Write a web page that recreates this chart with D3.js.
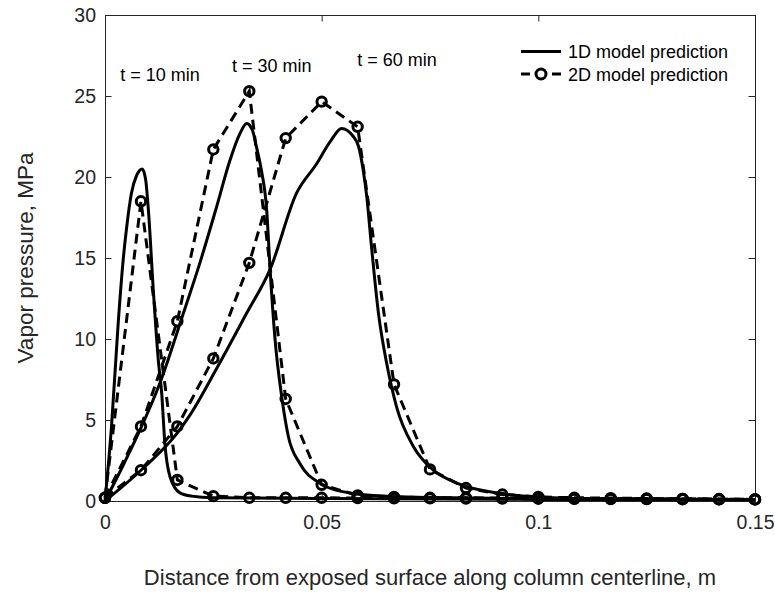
<!DOCTYPE html>
<html>
<head>
<meta charset="utf-8">
<script src="https://cdn.jsdelivr.net/npm/d3@7"></script>
<style>
    body { margin: 0; background: #fff; }
    svg { display: block; font-family: "Liberation Sans", Arial, sans-serif; }
</style>
</head>
<body>
<svg id="chart" width="775" height="600"></svg>
<script>
// 2D model: sampled points (markers)
const x2D = [0, 0.0083, 0.0167, 0.025, 0.0333, 0.0417, 0.05, 0.0583, 0.0667, 0.075,
    0.0833, 0.0917, 0.1, 0.1083, 0.1167, 0.125, 0.1333, 0.1417, 0.15];
const t10_2D = [0.2, 18.5, 1.3, 0.3, 0.2, 0.2, 0.2, 0.18, 0.17, 0.16, 0.15, 0.15, 0.14, 0.13, 0.12, 0.12, 0.11, 0.1, 0.1];
const t30_2D = [0.2, 4.6, 11.1, 21.7, 25.3, 6.3, 1.0, 0.35, 0.25, 0.2, 0.2, 0.18, 0.16, 0.15, 0.14, 0.13, 0.12, 0.11, 0.1];
const t60_2D = [0.2, 1.9, 4.6, 8.8, 14.7, 22.4, 24.65, 23.1, 7.2, 1.95, 0.8, 0.4, 0.25, 0.2, 0.18, 0.15, 0.13, 0.12, 0.1];

// 1D model: [distance, pressure]
const t10_1D = [[0, 0], [0.0015, 4.6], [0.003, 10.8], [0.0042, 14.9], [0.005, 16.9], [0.0061, 19.0],
    [0.0073, 20.1], [0.0086, 20.5], [0.0094, 19.8], [0.01, 18.0], [0.0112, 12.8], [0.0123, 8.7],
    [0.0131, 6.6], [0.0138, 3.6], [0.015, 1.5], [0.0173, 0.5], [0.02, 0.3], [0.025, 0.2],
    [0.05, 0.15], [0.1, 0.1], [0.15, 0.08]];
const t30_1D = [[0, 0], [0.004, 2.1], [0.0081, 4.4], [0.0127, 7.3], [0.0181, 11.6], [0.0219, 14.7],
    [0.0258, 18.2], [0.0288, 21.0], [0.031, 22.6], [0.0327, 23.3], [0.034, 22.9], [0.035, 21.8],
    [0.0361, 20.4], [0.0373, 18.0], [0.0381, 14.3], [0.0392, 10.1], [0.0408, 6.4], [0.0423, 4.0],
    [0.045, 2.3], [0.0496, 1.1], [0.0565, 0.5], [0.065, 0.3], [0.08, 0.2], [0.1, 0.15], [0.15, 0.1]];
const t60_1D = [[0, 0], [0.0083, 1.9], [0.0167, 4.2], [0.0196, 5.3], [0.0258, 8.2], [0.0327, 11.6],
    [0.0381, 14.3], [0.0442, 19.0], [0.0488, 20.8], [0.052, 22.2], [0.0546, 23.0], [0.0573, 22.5],
    [0.0585, 21.9], [0.0596, 20.4], [0.0604, 18.8], [0.0615, 15.7], [0.0631, 11.6], [0.065, 8.5],
    [0.0673, 5.8], [0.0712, 3.35], [0.0758, 1.9], [0.0812, 1.1], [0.0912, 0.47], [0.1, 0.25],
    [0.11, 0.15], [0.15, 0.08]];

const xTicks = [0, 0.05, 0.1, 0.15];
const xTickLabels = ['0', '0.05', '0.1', '0.15'];
const yTicks = [0, 5, 10, 15, 20, 25, 30];

const labels = [
    { text: 't = 10 min', x: 0.0035, y: 25.9 },
    { text: 't = 30 min', x: 0.0293, y: 26.5 },
    { text: 't = 60 min', x: 0.0582, y: 26.85 }
];

const margin = { top: 15, right: 20, bottom: 99, left: 105 };
const width = 775 - margin.left - margin.right;
const height = 600 - margin.top - margin.bottom;
const axisColor = '#262626';

const svg = d3.select('#chart');
const g = svg.append('g').attr('transform', `translate(${margin.left},${margin.top})`);

const x = d3.scaleLinear().domain([0, 0.15]).range([0, width]);
const y = d3.scaleLinear().domain([0, 30]).range([height, 0]);

// 坐标轴
function styleAxis(sel, fontSize) {
    sel.select('.domain').attr('stroke', axisColor).attr('stroke-width', 1);
    sel.selectAll('.tick line').attr('stroke', axisColor).attr('stroke-width', 1);
    sel.selectAll('.tick text').attr('fill', axisColor).style('font-size', fontSize);
}

g.append('g')
    .attr('transform', `translate(0,${height})`)
    .call(d3.axisBottom(x).tickValues(xTicks).tickSize(-6.5).tickPadding(14)
        .tickFormat((d, i) => xTickLabels[i]))
    .call(s => styleAxis(s, '19.5px'));

g.append('g')
    .call(d3.axisTop(x).tickValues(xTicks).tickSize(-6.5).tickFormat(''))
    .call(s => styleAxis(s, '0px'));

g.append('g')
    .call(d3.axisLeft(y).tickValues(yTicks).tickSize(-6.5).tickPadding(9))
    .call(s => styleAxis(s, '19.5px'));

g.append('g')
    .attr('transform', `translate(${width},0)`)
    .call(d3.axisRight(y).tickValues(yTicks).tickSize(-6.5).tickFormat(''))
    .call(s => styleAxis(s, '0px'));

// 轴标题
svg.append('text')
    .attr('x', margin.left + width / 2)
    .attr('y', 585)
    .attr('text-anchor', 'middle')
    .attr('fill', axisColor)
    .style('font-size', '22px')
    .text('Distance from exposed surface along column centerline, m');

svg.append('text')
    .attr('transform', `translate(33,${margin.top + height / 2}) rotate(-90)`)
    .attr('text-anchor', 'middle')
    .attr('fill', axisColor)
    .style('font-size', '22.5px')
    .text('Vapor pressure, MPa');

// 曲线
const line1D = d3.line().x(d => x(d[0])).y(d => y(d[1])).curve(d3.curveMonotoneX);
const line2D = d3.line().x(d => x(d[0])).y(d => y(d[1]));

[t10_1D, t30_1D, t60_1D].forEach(series => {
    g.append('path')
        .datum(series)
        .attr('fill', 'none')
        .attr('stroke', '#000')
        .attr('stroke-width', 3)
        .attr('stroke-linejoin', 'round')
        .attr('d', line1D);
});

[t10_2D, t30_2D, t60_2D].forEach(values => {
    const pts = x2D.map((xv, i) => [xv, values[i]]);
    g.append('path')
        .datum(pts)
        .attr('fill', 'none')
        .attr('stroke', '#000')
        .attr('stroke-width', 3)
        .attr('stroke-dasharray', '10,6')
        .attr('d', line2D);
    g.append('g')
        .selectAll('circle')
        .data(pts)
        .join('circle')
        .attr('cx', d => x(d[0]))
        .attr('cy', d => y(d[1]))
        .attr('r', 4.7)
        .attr('fill', 'none')
        .attr('stroke', '#000')
        .attr('stroke-width', 3);
});

// 时间标注
g.selectAll('.t-label')
    .data(labels)
    .join('text')
    .attr('class', 't-label')
    .attr('x', d => x(d.x))
    .attr('y', d => y(d.y))
    .attr('fill', '#000')
    .style('font-size', '18px')
    .text(d => d.text);

// 图例
const legend = svg.append('g').attr('transform', 'translate(521,0)');
legend.append('line')
    .attr('x1', 0).attr('x2', 40).attr('y1', 51.5).attr('y2', 51.5)
    .attr('stroke', '#000').attr('stroke-width', 3);
legend.append('text')
    .attr('x', 47).attr('y', 58)
    .style('font-size', '18px')
    .text('1D model prediction');

legend.append('line')
    .attr('x1', 0).attr('x2', 9).attr('y1', 74).attr('y2', 74)
    .attr('stroke', '#000').attr('stroke-width', 3);
legend.append('line')
    .attr('x1', 31).attr('x2', 40).attr('y1', 74).attr('y2', 74)
    .attr('stroke', '#000').attr('stroke-width', 3);
legend.append('circle')
    .attr('cx', 20).attr('cy', 74).attr('r', 5)
    .attr('fill', 'none').attr('stroke', '#000').attr('stroke-width', 3);
legend.append('text')
    .attr('x', 47).attr('y', 80.5)
    .style('font-size', '18px')
    .text('2D model prediction');
</script>
</body>
</html>
